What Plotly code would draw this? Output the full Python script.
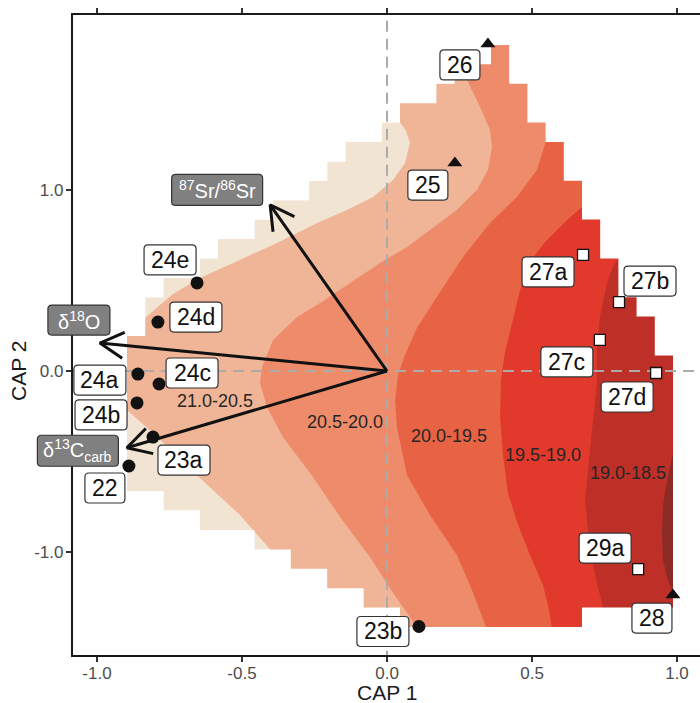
import numpy as np
import plotly.graph_objects as go

# ---------------- data ----------------
# site scores on the two CAP axes
site_labels = ["22", "23a", "23b", "24a", "24b", "24c", "24d", "24e",
               "25", "26", "28",
               "27a", "27b", "27c", "27d", "29a"]
site_cap1 = [-0.890, -0.807, 0.110, -0.859, -0.862, -0.786, -0.790, -0.655,
             0.234, 0.348, 0.986,
             0.676, 0.800, 0.734, 0.928, 0.866]
site_cap2 = [-0.526, -0.366, -1.415, -0.017, -0.177, -0.072, 0.271, 0.488,
             1.152, 1.812, -1.241,
             0.643, 0.382, 0.172, -0.011, -1.097]
site_group = ["circle"] * 8 + ["triangle"] * 3 + ["square"] * 5

# environmental vectors
vec_labels = ["<sup>87</sup>Sr/<sup>86</sup>Sr", "δ<sup>18</sup>O", "δ<sup>13</sup>C<sub>carb</sub>"]
vec_cap1 = [-0.403, -0.990, -0.897]
vec_cap2 = [0.920, 0.155, -0.425]

# fitted surface grid (30 x 30 cells) and the cells kept in each column
surf_x_range = [-0.8966, 0.9862]
surf_y_range = [-1.418, 1.806]
hull_top_row = [15, 13, 12, 12, 11, 10, 10, 9, 8, 8, 7, 6, 5, 5, 4, 3, 3, 2, 1, 1,
                0, 2, 4, 5, 7, 9, 11, 13, 14, 16]
hull_bottom_row = [23, 23, 24, 24, 25, 25, 25, 26, 26, 27, 27, 28, 28, 29, 29,
                   30, 30, 30, 30, 30, 30, 30, 30, 30, 30, 29, 29, 29, 29, 29]

# contour band boundaries read from the surface
b1_upper_x = [-0.921, -0.834, -0.783, -0.738, -0.645, -0.531, -0.379, -0.241, -0.138,
              -0.048, 0.021, 0.062, 0.079, 0.066, 0.045, 0.045]
b1_upper_y = [0.227, 0.294, 0.366, 0.427, 0.515, 0.598, 0.709, 0.820, 0.892,
              0.964, 1.058, 1.152, 1.263, 1.330, 1.376, 1.900]
b1_lower_x = [-0.955, -0.893, -0.807, -0.714, -0.645, -0.507, -0.403, -0.397]
b1_lower_y = [-0.188, -0.222, -0.343, -0.482, -0.593, -0.798, -0.988, -1.600]
b2_x = [0.252, 0.262, 0.276, 0.321, 0.355, 0.362, 0.348, 0.310, 0.241, 0.148, 0.069,
        -0.024, -0.128, -0.231, -0.310, -0.393, -0.431, -0.438, -0.414, -0.359,
        -0.255, -0.162, -0.059, 0.021, 0.079, 0.107, 0.121]
b2_y = [1.889, 1.701, 1.612, 1.463, 1.335, 1.241, 1.114, 1.003, 0.892, 0.781, 0.687,
        0.598, 0.488, 0.377, 0.299, 0.172, 0.022, -0.066, -0.199, -0.366,
        -0.587, -0.809, -1.030, -1.230, -1.363, -1.435, -1.600]
b3_x = [0.547, 0.547, 0.517, 0.448, 0.355, 0.262, 0.183, 0.103, 0.062, 0.038, 0.028,
        0.034, 0.069, 0.148, 0.241, 0.293, 0.345, 0.355]
b3_y = [1.300, 1.269, 1.114, 0.964, 0.820, 0.632, 0.438, 0.238, 0.089, -0.022, -0.161,
        -0.310, -0.576, -0.798, -1.019, -1.213, -1.435, -1.600]
b4_x = [0.672, 0.614, 0.545, 0.493, 0.459, 0.431, 0.407, 0.393, 0.390, 0.400, 0.417,
        0.452, 0.493, 0.538, 0.559, 0.569, 0.572]
b4_y = [0.909, 0.825, 0.715, 0.604, 0.449, 0.271, 0.105, -0.050, -0.255, -0.465, -0.676,
        -0.853, -1.019, -1.186, -1.324, -1.435, -1.600]
b5_x = [0.798, 0.779, 0.759, 0.734, 0.724, 0.724, 0.700, 0.683, 0.700, 0.724, 0.745, 0.752]
b5_y = [0.626, 0.576, 0.488, 0.299, 0.116, -0.066, -0.438, -0.715, -0.992, -1.175, -1.307, -1.490]
b6_x = [0.995, 0.983, 0.966, 0.952, 0.948, 0.952, 0.966, 0.983, 0.995]
b6_y = [-0.438, -0.476, -0.604, -0.742, -0.898, -1.047, -1.147, -1.213, -1.269]

band_colors = ["#F2E4D3", "#F0B496", "#EE8B6A", "#E86343", "#E1392C", "#BE2F28", "#8C2A25"]
band_labels = ["21.0-20.5", "20.5-20.0", "20.0-19.5", "19.5-19.0", "19.0-18.5"]
band_label_x = [-0.593, -0.145, 0.214, 0.538, 0.831]
band_label_y = [-0.172, -0.288, -0.366, -0.476, -0.571]

x_ticks = [-1.0, -0.5, 0.0, 0.5, 1.0]
x_tick_text = ["-1.0", "-0.5", "0.0", "0.5", "1.0"]
y_ticks = [-1.0, 0.0, 1.0]
y_tick_text = ["-1.0", "0.0", "1.0"]

# ---------------- layout constants ----------------
W, H = 700, 703
M = dict(l=73, r=0, t=15, b=48)
XR = [-1.0828, 1.0793]
YR = [-1.573, 1.972]
FONT = "Liberation Sans, Arial, Helvetica, sans-serif"
PW, PH = W - M["l"] - M["r"], H - M["t"] - M["b"]
sx = PW / (XR[1] - XR[0])
sy = PH / (YR[1] - YR[0])
FAR = 5.0

# label box placement (pixel offsets from the point: right, down) and box sizes
label_offsets = {"22": (-24, 22), "23a": (31, 23), "23b": (-36, 5), "24a": (-38, 6),
                 "24b": (-36, 12), "24c": (33, -11), "24d": (38, -5), "24e": (-27, -23),
                 "25": (-27, 22), "26": (-28, 21), "28": (-21, 23), "27a": (-35, 17),
                 "27b": (31, -21), "27c": (-33, 22), "27d": (-29, 24), "29a": (-33, -21)}
vec_offsets = [(-53, -15, 91, 31), (-21, -23, 62, 30), (-49, 3, 81, 31)]

fig = go.Figure()

# ---------------- surface ----------------
n_cols = len(hull_top_row)
xe = np.linspace(surf_x_range[0], surf_x_range[1], n_cols + 1)
ye = np.linspace(surf_y_range[1], surf_y_range[0], 31)
hx, hy = [], []
for i in range(n_cols):
    hx += [xe[i], xe[i + 1]]
    hy += [ye[hull_top_row[i]], ye[hull_top_row[i]]]
for i in reversed(range(n_cols)):
    hx += [xe[i + 1], xe[i]]
    hy += [ye[hull_bottom_row[i]], ye[hull_bottom_row[i]]]


def poly(x, y, color):
    fig.add_trace(go.Scatter(x=list(x), y=list(y), mode="lines", fill="toself",
                             fillcolor=color, line=dict(width=0, color=color),
                             hoverinfo="skip", showlegend=False))


# base band
poly(hx + [hx[0]], hy + [hy[0]], band_colors[0])
# band 1 (between the two beige strips)
r1x = b1_upper_x + [FAR, FAR] + b1_lower_x[::-1]
r1y = b1_upper_y + [b1_upper_y[-1], b1_lower_y[-1]] + b1_lower_y[::-1]
poly(r1x + [r1x[0]], r1y + [r1y[0]], band_colors[1])
for k, (bx, by) in enumerate([(b2_x, b2_y), (b3_x, b3_y), (b4_x, b4_y),
                              (b5_x, b5_y), (b6_x, b6_y)]):
    px = bx + [FAR, FAR, bx[0]]
    py = by + [by[-1], by[0], by[0]]
    poly(px, py, band_colors[k + 2])

# white mask outside the surface grid (hole = kept cells, opposite winding)
mx = [-FAR, FAR, FAR, -FAR, -FAR, None] + hx + [hx[0]]
my = [-FAR, -FAR, FAR, FAR, -FAR, None] + hy + [hy[0]]
fig.add_trace(go.Scatter(x=mx, y=my, mode="lines", fill="toself", fillcolor="white",
                         line=dict(width=0, color="white"), hoverinfo="skip",
                         showlegend=False))

# ---------------- reference lines ----------------
fig.add_trace(go.Scatter(x=[-FAR, FAR, None, 0, 0], y=[0, 0, None, -FAR, FAR],
                         mode="lines", line=dict(color="#ABABAB", width=2, dash="11px,7px"),
                         hoverinfo="skip", showlegend=False))

# ---------------- band labels ----------------
fig.add_trace(go.Scatter(x=band_label_x, y=band_label_y, mode="text", text=band_labels,
                         textfont=dict(family=FONT, size=18, color="#262626"),
                         hoverinfo="skip", showlegend=False))

# ---------------- vectors ----------------
HEAD_LEN, HEAD_ANG = 27.0, np.deg2rad(29)
ax_, ay_ = [], []
for tx, ty in zip(vec_cap1, vec_cap2):
    ux, uy = -tx * sx, -ty * sy
    n = np.hypot(ux, uy)
    ux, uy = ux / n, uy / n
    arms = []
    for s in (1, -1):
        c, si = np.cos(s * HEAD_ANG), np.sin(s * HEAD_ANG)
        rx, ry = (ux * c - uy * si) * HEAD_LEN, (ux * si + uy * c) * HEAD_LEN
        arms.append((tx + rx / sx, ty + ry / sy))
    ax_ += [0, tx, None, arms[0][0], tx, arms[1][0], None]
    ay_ += [0, ty, None, arms[0][1], ty, arms[1][1], None]
fig.add_trace(go.Scatter(x=ax_, y=ay_, mode="lines", line=dict(color="#111111", width=3),
                         hoverinfo="skip", showlegend=False))

# ---------------- sites ----------------
styles = {"circle": dict(symbol="circle", size=13, color="#111111"),
          "triangle": dict(symbol="triangle-up", size=13, color="#111111"),
          "square": dict(symbol="square", size=11, color="white",
                         line=dict(color="#111111", width=1.3))}
for g, st in styles.items():
    idx = [i for i, gg in enumerate(site_group) if gg == g]
    fig.add_trace(go.Scatter(x=[site_cap1[i] for i in idx], y=[site_cap2[i] for i in idx],
                             mode="markers", marker=st, hoverinfo="skip", showlegend=False))


def rounded_box(cx, cy, w, h, r=4):
    x0, x1, y0, y1 = cx - w / 2, cx + w / 2, cy - h / 2, cy + h / 2
    return (f"M{x0 + r},{y1} L{x1 - r},{y1} Q{x1},{y1} {x1},{y1 - r} "
            f"L{x1},{y0 + r} Q{x1},{y0} {x1 - r},{y0} L{x0 + r},{y0} "
            f"Q{x0},{y0} {x0},{y0 + r} L{x0},{y1 - r} Q{x0},{y1} {x0 + r},{y1} Z")


def to_paper(x, y):
    return (x - XR[0]) / (XR[1] - XR[0]), (y - YR[0]) / (YR[1] - YR[0])


shapes, annotations = [], []


def boxed_label(x, y, text, dx, dy, w, h, fill, tcolor, size):
    pxp, pyp = to_paper(x, y)
    shapes.append(dict(type="path", xref="paper", yref="paper", xsizemode="pixel",
                       ysizemode="pixel", xanchor=pxp, yanchor=pyp,
                       path=rounded_box(dx, -dy, w, h), fillcolor=fill,
                       line=dict(color="#333333", width=1.2), layer="above"))
    annotations.append(dict(x=x, y=y, xref="x", yref="y", text=text, showarrow=False,
                            xshift=dx, yshift=-dy, xanchor="center", yanchor="middle",
                            font=dict(family=FONT, size=size, color=tcolor)))


for lab, x, y in zip(site_labels, site_cap1, site_cap2):
    dx, dy = label_offsets[lab]
    boxed_label(x, y, lab, dx, dy, 52 if len(lab) == 3 else 40, 30, "white", "#111111", 23)
for lab, x, y, (dx, dy, w, h) in zip(vec_labels, vec_cap1, vec_cap2, vec_offsets):
    boxed_label(x, y, lab, dx, dy, w, h, "#808080", "white", 20)

# axis titles
annotations.append(dict(x=(387 - M["l"]) / PW, y=-(692 - (H - M["b"])) / PH,
                        xref="paper", yref="paper", text="CAP 1", showarrow=False,
                        xanchor="center", yanchor="middle",
                        font=dict(family=FONT, size=21, color="#1a1a1a")))
annotations.append(dict(x=(18 - M["l"]) / PW, y=((H - M["b"]) - 371) / PH,
                        xref="paper", yref="paper", text="CAP 2", showarrow=False,
                        textangle=-90, xanchor="center", yanchor="middle",
                        font=dict(family=FONT, size=21, color="#1a1a1a")))

axis_common = dict(showgrid=False, zeroline=False, showline=True, linecolor="#1a1a1a",
                   linewidth=2.2, ticks="outside", ticklen=5, tickwidth=1.5,
                   tickcolor="#333333", tickfont=dict(family=FONT, size=17, color="#4d4d4d"))
fig.update_layout(
    width=W, height=H, margin=M, paper_bgcolor="white", plot_bgcolor="white",
    showlegend=False, hovermode=False, annotations=annotations, shapes=shapes,
    xaxis=dict(range=XR, tickvals=x_ticks, ticktext=x_tick_text, mirror="allticks",
               ticklabelstandoff=-4, **axis_common),
    yaxis=dict(range=YR, tickvals=y_ticks, ticktext=y_tick_text, mirror=False,
               ticklabelstandoff=-1, **axis_common),
)

fig.write_html("out.html")
